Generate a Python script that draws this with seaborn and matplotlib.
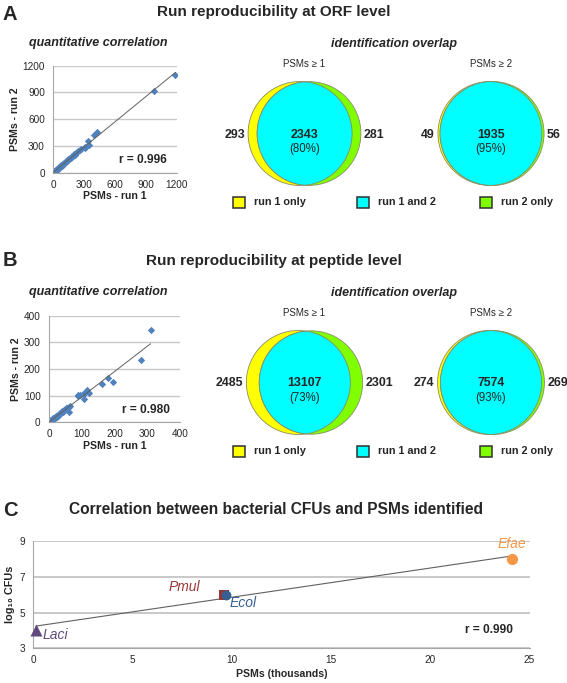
import numpy as np
import pandas as pd
import matplotlib
matplotlib.use("Agg")
import matplotlib.pyplot as plt
from matplotlib.patches import Circle, Rectangle
import seaborn as sns

# ---------------- data ----------------
orf_run1 = [1, 2, 3, 5, 6, 8, 9, 11, 13, 15, 17, 19, 22, 24, 27, 30, 33, 36, 39, 43, 47, 51, 55, 60,
            64, 69, 74, 79, 85, 90, 96, 102, 108, 115, 122, 130, 138, 146, 154, 163, 172, 181, 190,
            200, 210, 220, 232, 244, 256, 268, 305, 312, 342, 352, 395, 430, 980, 1190]
orf_run2 = [2, 1, 4, 4, 7, 7, 11, 10, 12, 17, 15, 21, 20, 27, 25, 32, 31, 39, 37, 45, 44, 54, 52, 62,
            61, 72, 70, 83, 80, 94, 91, 106, 104, 119, 117, 134, 133, 150, 149, 167, 166, 184, 186,
            205, 203, 224, 228, 247, 252, 262, 274, 288, 360, 307, 420, 461, 920, 1095]

pep_run1 = [1, 2, 3, 4, 5, 6, 7, 8, 9, 10, 11, 12, 13, 14, 15, 16, 18, 20, 22, 24, 26, 28, 30, 32,
            35, 38, 40, 43, 46, 50, 53, 56, 60, 62, 65, 88, 90, 96, 104, 108, 110, 116, 123, 162,
            180, 195, 280, 310]
pep_run2 = [3, 1, 5, 2, 7, 4, 9, 6, 11, 8, 14, 10, 16, 12, 18, 15, 20, 19, 24, 21, 28, 25, 33, 29,
            36, 34, 43, 40, 48, 46, 55, 52, 58, 40, 62, 103, 97, 103, 105, 86, 109, 121, 110, 145,
            165, 152, 235, 345]

# venn counts: (run 1 only, run 1 and 2, run 2 only)
orf_psm1 = (293, 2343, 281)
orf_psm2 = (49, 1935, 56)
pep_psm1 = (2485, 13107, 2301)
pep_psm2 = (274, 7574, 269)

r_orf = "r = 0.996"
r_pep = "r = 0.980"
r_cfu = "r = 0.990"

species = ["Laci", "Pmul", "Ecol", "Efae"]
psms_thousands = [0.12, 9.6, 9.73, 24.1]
log10_cfus = [4.0, 6.0, 6.0, 8.0]

legend_labels = ["run 1 only", "run 1 and 2", "run 2 only"]

# ---------------- style ----------------
sns.set_style("white")
plt.rcParams['font.family'] = ['Liberation Sans', 'DejaVu Sans']

W, H = 567, 683
BLUE = "#4F81BD"
YEL, CYAN, GRN = "#FFFF00", "#00FFFF", "#80FF00"
EDGE = "#8A8A6A"
GRID = "#C8C8C8"
SPINE = "#A6A6A6"
sp_colors = {"Laci": "#604A7B", "Pmul": "#953735", "Ecol": "#376092", "Efae": "#F79646"}
sp_markers = {"Laci": "^", "Pmul": "s", "Ecol": "o", "Efae": "o"}
sp_sizes = {"Laci": 75, "Pmul": 60, "Ecol": 50, "Efae": 65}

fig = plt.figure(figsize=(W / 100, H / 100), dpi=100)
ov = fig.add_axes([0, 0, 1, 1])
ov.set_xlim(0, W)
ov.set_ylim(H, 0)
ov.axis('off')


def rect_px(x0, y0, x1, y1):
    return [x0 / W, 1 - y1 / H, (x1 - x0) / W, (y1 - y0) / H]


def style_axes(ax):
    for s in ["top", "right"]:
        ax.spines[s].set_visible(False)
    ax.spines["left"].set_color(SPINE)
    ax.spines["bottom"].set_color(SPINE)
    ax.spines["left"].set_linewidth(0.8)
    ax.spines["bottom"].set_linewidth(0.8)
    ax.yaxis.grid(True, color=GRID, lw=1.0)
    ax.xaxis.grid(False)
    ax.set_axisbelow(True)
    ax.tick_params(axis='both', which='both', length=3, width=0.7, color=SPINE,
                   labelsize=7.2, pad=2, direction='out')
    ax.tick_params(axis='y', pad=3)


def scatter_panel(rect, x, y, lim, step, rtext, rpos):
    ax = fig.add_axes(rect)
    df = pd.DataFrame({"run1": x, "run2": y})
    sns.regplot(data=df, x="run1", y="run2", ax=ax, ci=None, marker="D",
                scatter_kws=dict(s=14, color=BLUE, linewidths=0, alpha=1, zorder=2),
                line_kws=dict(color="#606060", lw=0.7, zorder=3))
    ax.set_xlim(0, lim)
    ax.set_ylim(0, lim)
    ticks = np.arange(0, lim + 1, step)
    ax.set_xticks(ticks)
    ax.set_yticks(ticks)
    style_axes(ax)
    ax.set_xlabel("PSMs - run 1", fontsize=7.6, fontweight='bold', labelpad=1)
    ax.set_ylabel("PSMs - run 2", fontsize=7.6, fontweight='bold', labelpad=2)
    ax.text(rpos[0], rpos[1], rtext, transform=ax.transAxes, fontsize=8.6,
            fontweight='bold', ha='center', va='center')
    return ax


def lens_area(r1, r2, d):
    if d >= r1 + r2:
        return 0.0
    if d <= abs(r1 - r2):
        return np.pi * min(r1, r2) ** 2
    a1 = r1 ** 2 * np.arccos((d ** 2 + r1 ** 2 - r2 ** 2) / (2 * d * r1))
    a2 = r2 ** 2 * np.arccos((d ** 2 + r2 ** 2 - r1 ** 2) / (2 * d * r2))
    a3 = 0.5 * np.sqrt((-d + r1 + r2) * (d + r1 - r2) * (d - r1 + r2) * (d + r1 + r2))
    return a1 + a2 - a3


def venn(cx, cy, counts, R=52):
    n1, n12, n2 = counts
    nmax = max(n1 + n12, n2 + n12)
    r1 = R * np.sqrt((n1 + n12) / nmax)
    r2 = R * np.sqrt((n2 + n12) / nmax)
    target = np.pi * R ** 2 * n12 / nmax
    lo, hi = abs(r1 - r2) + 1e-9, r1 + r2
    for _ in range(200):
        mid = (lo + hi) / 2
        if lens_area(r1, r2, mid) > target:
            lo = mid
        else:
            hi = mid
    d = (lo + hi) / 2
    x1 = cx - (d + r2 - r1) / 2
    x2 = x1 + d
    ov.add_patch(Circle((x1, cy), r1, fc=YEL, ec=EDGE, lw=0.6, zorder=1))
    ov.add_patch(Circle((x2, cy), r2, fc=GRN, ec=EDGE, lw=0.6, zorder=1))
    c = Circle((x2, cy), r2, fc=CYAN, ec=EDGE, lw=0.6, zorder=2)
    ov.add_patch(c)
    c.set_clip_path(Circle((x1, cy), r1, transform=ov.transData))
    c2 = Circle((x1, cy), r1, fill=False, ec=EDGE, lw=0.6, zorder=3)
    ov.add_patch(c2)
    c2.set_clip_path(Circle((x2, cy), r2, transform=ov.transData))
    pct = 100 * n12 / (n1 + n12 + n2)
    ov.text(cx, cy + 1, f"{n12}", ha='center', va='center', fontsize=8.9, fontweight='bold', zorder=5)
    ov.text(cx, cy + 15.5, f"({pct:.0f}%)", ha='center', va='center', fontsize=8.3, zorder=5)
    ov.text(x1 - r1 - 3, cy + 1, f"{n1}", ha='right', va='center', fontsize=8.9, fontweight='bold')
    ov.text(x2 + r2 + 3, cy + 1, f"{n2}", ha='left', va='center', fontsize=8.9, fontweight='bold')


def legend_row(y):
    xs = [233, 357, 480]
    cols = [YEL, CYAN, GRN]
    for x, c, lab in zip(xs, cols, legend_labels):
        ov.add_patch(Rectangle((x, y - 5.5), 12, 11, fc=c, ec="#303030", lw=1.1))
        ov.text(x + 21, y, lab, ha='left', va='center', fontsize=7.8, fontweight='bold')


def panel(dy, title, xr, yr, rtext, vc1, vc2, lim, step, rect, rpos):
    ov.text(274, 12 + dy, title, ha='center', va='center', fontsize=11, fontweight='bold')
    ov.text(98, 43 + dy, "quantitative correlation", ha='center', va='center',
            fontsize=9, fontweight='bold', style='italic')
    ov.text(394, 44 + dy, "identification overlap", ha='center', va='center',
            fontsize=9, fontweight='bold', style='italic')
    ov.text(304, 64 + dy, "PSMs \u2265 1", ha='center', va='center', fontsize=7.0)
    ov.text(491, 64 + dy, "PSMs \u2265 2", ha='center', va='center', fontsize=7.0)
    venn(304.5, 133.5 + dy, vc1)
    venn(491, 133.5 + dy, vc2)
    legend_row(202 + dy)
    scatter_panel(rect, xr, yr, lim, step, rtext, rpos)


ov.text(10, 14, "A", ha='center', va='center', fontsize=14.5, fontweight='bold')
ov.text(10, 261, "B", ha='center', va='center', fontsize=14.5, fontweight='bold')
ov.text(10, 511, "C", ha='center', va='center', fontsize=14.5, fontweight='bold')

panel(0, "Run reproducibility at ORF level", orf_run1, orf_run2, r_orf,
      orf_psm1, orf_psm2, 1200, 300, rect_px(53.3, 65.7, 176.5, 172.7), (0.728, 0.119))
panel(249, "Run reproducibility at peptide level", pep_run1, pep_run2, r_pep,
      pep_psm1, pep_psm2, 400, 100, rect_px(49, 315.7, 180, 422.3), (0.737, 0.115))

# ---------------- panel C ----------------
ov.text(276, 510, "Correlation between bacterial CFUs and PSMs identified", ha='center',
        va='center', fontsize=11.2, fontweight='bold')
axc = fig.add_axes(rect_px(33.3, 541, 529.5, 648.3))
dfc = pd.DataFrame({"species": species, "psms": psms_thousands, "cfu": log10_cfus})
sns.regplot(data=dfc, x="psms", y="cfu", ax=axc, ci=None, scatter=False,
            line_kws=dict(color="#606060", lw=0.8, zorder=2))
for sp in species:
    sub = dfc[dfc.species == sp]
    sns.scatterplot(data=sub, x="psms", y="cfu", ax=axc, marker=sp_markers[sp],
                    color=sp_colors[sp], s=sp_sizes[sp], linewidth=0, zorder=3,
                    legend=False, clip_on=False)
axc.set_xlim(0, 25)
axc.set_ylim(3, 9)
axc.set_xticks([0, 5, 10, 15, 20, 25])
axc.set_yticks([3, 5, 7, 9])
style_axes(axc)
axc.yaxis.grid(True, color=GRID, lw=1.4)
axc.set_xlabel("PSMs (thousands)", fontsize=7.6, fontweight='bold', labelpad=3)
axc.set_ylabel("log\u2081\u2080 CFUs", fontsize=7.8, fontweight='bold', labelpad=3)
label_pos = {"Laci": (0.47, 3.74, 'left'), "Pmul": (7.6, 6.45, 'center'),
             "Ecol": (9.9, 5.55, 'left'), "Efae": (24.1, 8.85, 'center')}
for sp in species:
    x, y, ha = label_pos[sp]
    axc.text(x, y, sp, color=sp_colors[sp], fontsize=10, style='italic', ha=ha, va='center')
axc.text(22.97, 4.02, r_cfu, fontsize=8.6, fontweight='bold', ha='center', va='center')

fig.savefig("out.png", dpi=100)
